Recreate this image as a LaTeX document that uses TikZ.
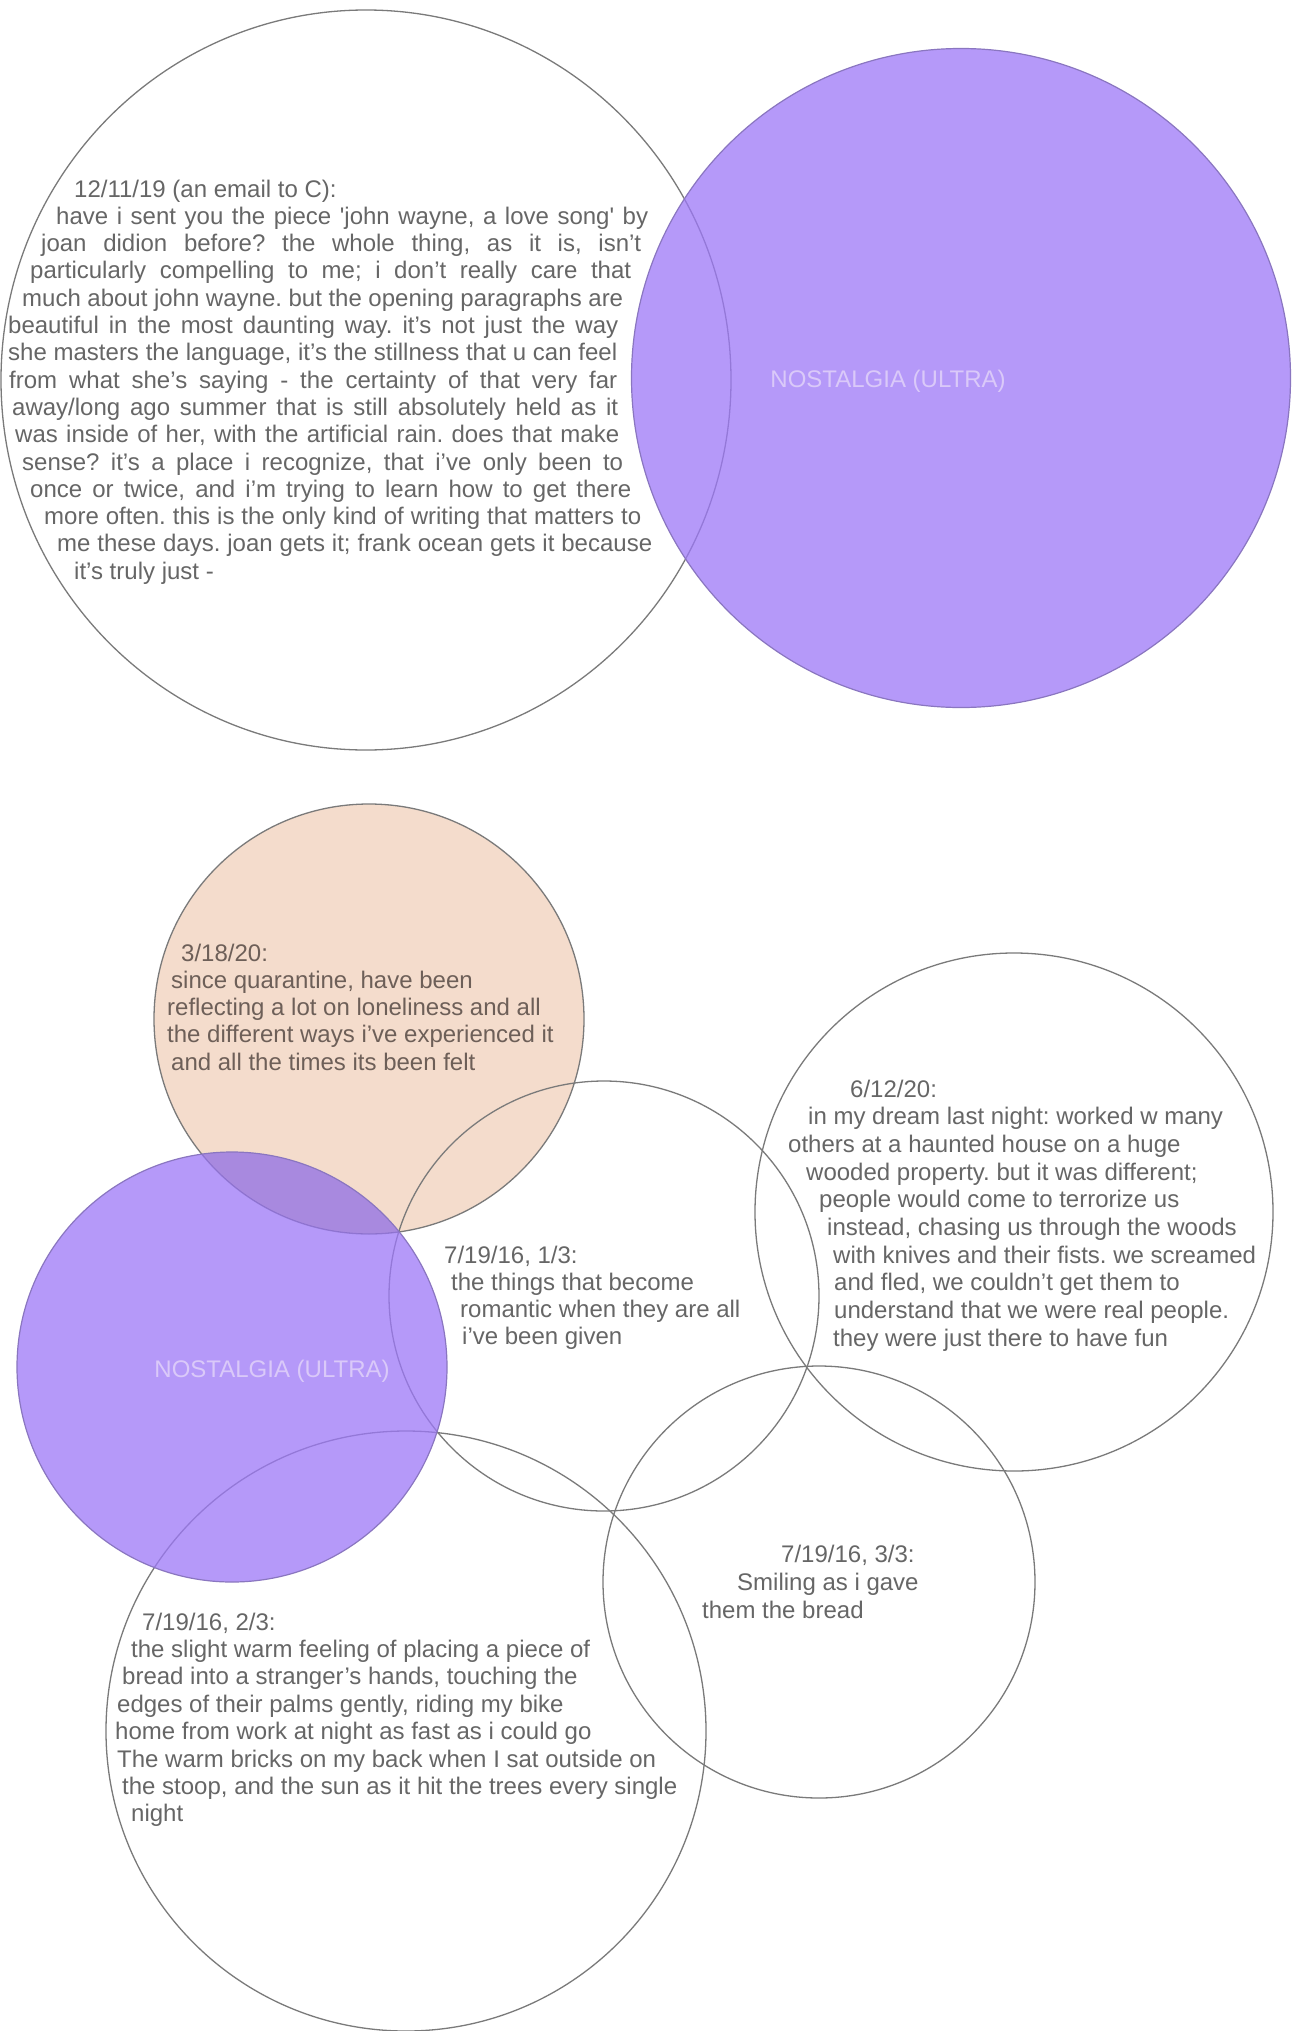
\documentclass[tikz,border=0pt]{standalone}
\usepackage{fontspec}
\newfontfamily\arial{Liberation Sans}
\definecolor{txtgray}{HTML}{666666}
\definecolor{peachtxt}{HTML}{6D5F58}
\definecolor{peachfill}{HTML}{F4DCCC}
\definecolor{ringgray}{HTML}{7A7A7A}
\definecolor{purplefill}{HTML}{9D78F8}
\definecolor{purpleline}{HTML}{8A76C0}
\definecolor{labelcol}{HTML}{DAC9F9}
\newcommand\jline[5]{\node[txt] (#1) at (#2,#4) {\makebox[\dimexpr #3pt-#2pt\relax][s]{#5}};}
\begin{document}
\frenchspacing
\begin{tikzpicture}[x=1pt,y=-1pt,
  txt/.style={font=\arial\frenchspacing\fontsize{24}{27.3}\selectfont, text=txtgray, inner sep=0pt, anchor=base west},
  ptxt/.style={txt, text=peachtxt},
  ring/.style={draw=ringgray, line width=1.3pt},
  purplebody/.style={fill=purplefill, fill opacity=0.75},
  purplering/.style={draw=purpleline, line width=1.2pt},
  label/.style={font=\arial\fontsize{24}{27.3}\selectfont, text=labelcol, inner sep=0pt, anchor=base}]
\path[use as bounding box, fill=white] (0,0) rectangle (1292,2031);
% peach circle fill
\fill[peachfill] (369,1019) circle[radius=215pt];
% outlines of the white circles and of the peach circle
\draw[ring] (366,380) ellipse[x radius=365pt, y radius=370pt];
\draw[ring] (369,1019) circle[radius=215pt];
\draw[ring] (604,1296) circle[radius=215pt];
\draw[ring] (1014,1212) circle[radius=259pt];
\draw[ring] (819,1582) circle[radius=216pt];
\draw[ring] (406,1731) circle[radius=300pt];
% top text
\node[txt] (a0) at (74,197) {12/11/19 (an email to C):};
\jline{a1}{56}{648}{224.3}{have i sent you the piece 'john wayne, a love song' by}
\jline{a2}{41}{641}{251.6}{joan didion before? the whole thing, as it is, isn’t}
\jline{a3}{30}{631}{278.9}{particularly compelling to me; i don’t really care that}
\jline{a4}{22}{623}{306.2}{much about john wayne. but the opening paragraphs are}
\jline{a5}{8}{618}{333.5}{beautiful in the most daunting way. it’s not just the way}
\jline{a6}{8}{617}{360.8}{she masters the language, it’s the stillness that u can feel}
\jline{a7}{9}{617}{388.1}{from what she’s saying - the certainty of that very far}
\jline{a8}{12}{618}{415.4}{away/long ago summer that is still absolutely held as it}
\jline{a9}{15}{619}{442.7}{was inside of her, with the artificial rain. does that make}
\jline{a10}{22}{623}{470}{sense? it’s a place i recognize, that i’ve only been to}
\jline{a11}{30}{631}{497.3}{once or twice, and i’m trying to learn how to get there}
\jline{a12}{44}{641}{524.6}{more often. this is the only kind of writing that matters to}
\jline{a13}{57}{652}{551.9}{me these days. joan gets it; frank ocean gets it because}
\node[txt] (a14) at (74,579.2) {it’s truly just -};
% peach text
\node[ptxt] (b0) at (181,961) {3/18/20:};
\node[ptxt] (b1) at (171,988.3) {since quarantine, have been};
\node[ptxt] (b2) at (167,1015.6) {reflecting a lot on loneliness and all};
\node[ptxt] (b3) at (167,1042.9) {the different ways i’ve experienced it};
\node[ptxt] (b4) at (171,1070.2) {and all the times its been felt};
% 7/19/16 1/3
\node[txt] (c0) at (444,1263) {7/19/16, 1/3:};
\node[txt] (c1) at (451,1290.3) {the things that become};
\node[txt] (c2) at (460,1317.6) {romantic when they are all};
\node[txt] (c3) at (462,1344.9) {i’ve been given};
% 6/12/20
\node[txt] (d0) at (850,1097) {6/12/20:};
\node[txt] (d1) at (808,1124.7) {in my dream last night: worked w many};
\node[txt] (d2) at (788,1152.4) {others at a haunted house on a huge};
\node[txt] (d3) at (806,1180.1) {wooded property. but it was different;};
\node[txt] (d4) at (819,1207.8) {people would come to terrorize us};
\node[txt] (d5) at (827,1235.5) {instead, chasing us through the woods};
\node[txt] (d6) at (833,1263.2) {with knives and their fists. we screamed};
\node[txt] (d7) at (834,1290.9) {and fled, we couldn’t get them to};
\node[txt] (d8) at (834,1318.6) {understand that we were real people.};
\node[txt] (d9) at (833,1346.3) {they were just there to have fun};
% 7/19/16 3/3
\node[txt] (e0) at (781,1562) {7/19/16, 3/3:};
\node[txt] (e1) at (737,1590) {Smiling as i gave};
\node[txt] (e2) at (702,1618) {them the bread};
% 7/19/16 2/3
\node[txt] (f0) at (142,1630) {7/19/16, 2/3:};
\node[txt] (f1) at (131,1657.4) {the slight warm feeling of placing a piece of};
\node[txt] (f2) at (122,1684.8) {bread into a stranger’s hands, touching the};
\node[txt] (f3) at (117,1712.2) {edges of their palms gently, riding my bike};
\node[txt] (f4) at (115,1739.6) {home from work at night as fast as i could go};
\node[txt] (f5) at (117,1767) {The warm bricks on my back when I sat outside on};
\node[txt] (f6) at (122,1794.4) {the stoop, and the sun as it hit the trees every single};
\node[txt] (f7) at (131,1821.8) {night};
% purple circles
\fill[purplebody] (961,378) circle[radius=329.5pt];
\fill[purplebody] (232,1367) circle[radius=215pt];
\begin{scope}
  \clip (369,1019) circle[radius=215pt];
  \fill[black, fill opacity=0.05] (232,1367) circle[radius=215pt];
\end{scope}
\draw[purplering] (961,378) circle[radius=329.5pt];
\draw[purplering] (232,1367) circle[radius=215pt];
\node[label] (n1) at (888,387) {NOSTALGIA (ULTRA)};
\node[label] (n2) at (272,1377) {NOSTALGIA (ULTRA)};
\end{tikzpicture}
\end{document}
